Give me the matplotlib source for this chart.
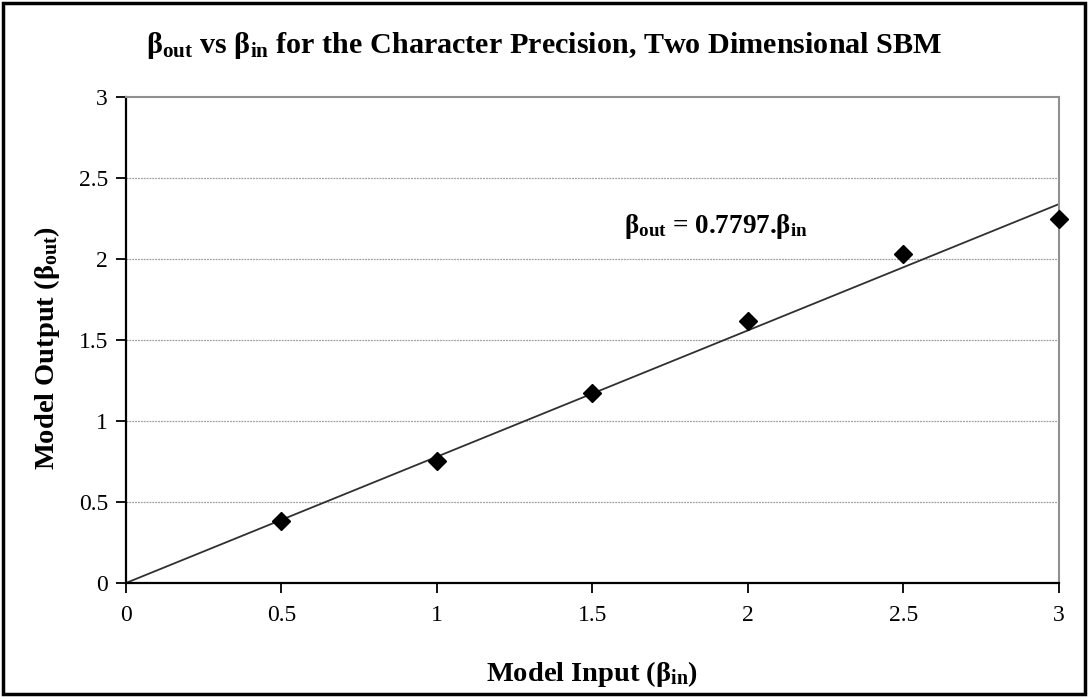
import matplotlib
matplotlib.use("Agg")
import matplotlib.pyplot as plt
import numpy as np

# data
beta_in = [0.5, 1.0, 1.5, 2.0, 2.5, 3.0]
beta_out = [0.38, 0.75, 1.17, 1.62, 2.03, 2.25]
slope = 0.7797
fit_x = [0.0, 3.0]
ticks = [0, 0.5, 1, 1.5, 2, 2.5, 3]
tick_labels = ["0", "0.5", "1", "1.5", "2", "2.5", "3"]

plt.rcParams["font.family"] = ["Liberation Serif", "DejaVu Serif"]
plt.rcParams["mathtext.fontset"] = "custom"
plt.rcParams["mathtext.rm"] = "Liberation Serif"
plt.rcParams["mathtext.bf"] = "Liberation Serif:bold"
plt.rcParams["mathtext.it"] = "Liberation Serif:italic"

fig = plt.figure(figsize=(10.88, 6.97), dpi=100)
ax = fig.add_axes([0.1158, 0.1636, 0.8575, 0.6972])

# gridlines
for t in ticks[1:-1]:
    ax.axhline(t, color="#a0a0a0", linewidth=0.9, linestyle=(0, (1.5, 0.8)), zorder=1)

fit_y = [slope * v for v in fit_x]
ax.plot(fit_x, fit_y, color="#303030", linewidth=1.3, zorder=2)
ax.plot(beta_in, beta_out, linestyle="none", marker="D", markersize=9,
        color="black", zorder=3, clip_on=False)

ax.set_xlim(0, 3)
ax.set_ylim(0, 3)
ax.set_xticks(ticks)
ax.set_xticklabels(tick_labels)
ax.set_yticks(ticks)
ax.set_yticklabels(tick_labels)
ax.tick_params(axis="both", direction="out", length=7, width=1.3, labelsize=17,
               colors="black")
ax.tick_params(axis="x", pad=9)
ax.tick_params(axis="y", pad=6)

ax.spines["left"].set_linewidth(1.6)
ax.spines["bottom"].set_linewidth(1.6)
ax.spines["top"].set_color("#909090")
ax.spines["right"].set_color("#909090")
ax.spines["top"].set_linewidth(1.5)
ax.spines["right"].set_linewidth(1.5)

fig.text(0.5446, 0.033, r"Model Input ($\mathbf{β_{in}}$)", fontsize=20.5,
         fontweight="bold", ha="center", va="center")
fig.text(0.043, 0.5, r"Model Output ($\mathbf{β_{out}}$)", fontsize=20.5,
         fontweight="bold", ha="center", va="center", rotation=90)

ax.text(1.6, 2.2, r"$\mathbf{β_{out}}$ = 0.7797.$\mathbf{β_{in}}$", fontsize=19.5,
        fontweight="bold", va="center", ha="left")

fig.text(0.5, 0.935, r"$\mathbf{β_{out}}$ vs $\mathbf{β_{in}}$ for the Character Precision, Two Dimensional SBM",
         fontsize=21.7, fontweight="bold", ha="center", va="center")

# outer frame
fig.patches.append(plt.Rectangle((0.003, 0.004), 0.994, 0.992, transform=fig.transFigure,
                                 fill=False, edgecolor="black", linewidth=2.5))

fig.savefig("out.png", dpi=100)
